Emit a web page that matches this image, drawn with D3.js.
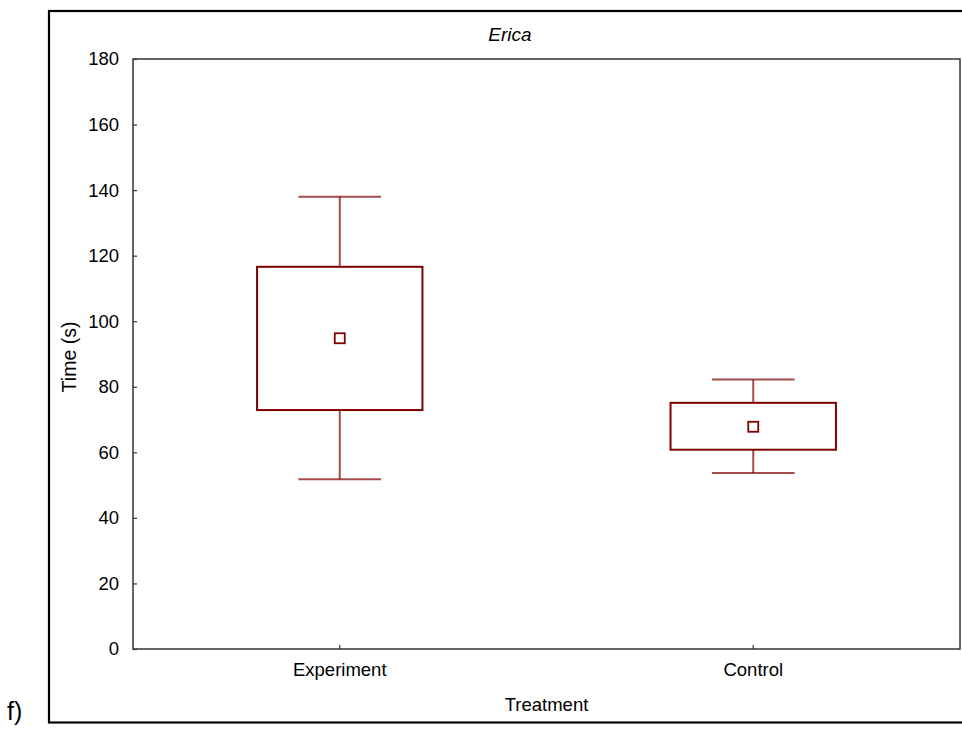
<!DOCTYPE html>
<html>
<head>
<meta charset="utf-8">
<script src="https://cdn.jsdelivr.net/npm/d3@7/dist/d3.min.js"></script>
<style>
  html, body { margin: 0; padding: 0; background: #fff; }
  svg { display: block; font-family: "Liberation Sans", Arial, sans-serif; }
</style>
</head>
<body>
<svg id="chart" width="962" height="729"></svg>
<script>
// Treatment groups and their box-plot statistics (Time, seconds)
const groups = ["Experiment", "Control"];
const whiskerLow = [51.8, 53.7];
const boxLow = [72.9, 60.8];
const means = [94.8, 67.8];
const boxHigh = [116.6, 75.1];
const whiskerHigh = [138, 82.2];
const yTicks = [0, 20, 40, 60, 80, 100, 120, 140, 160, 180];

const chartTitle = "Erica";
const xTitle = "Treatment";
const yTitle = "Time (s)";
const panelTag = "f)";

const svg = d3.select("#chart");
const plot = { left: 133, top: 59, right: 960, bottom: 649 };
const red = "#800000";

const x = d3.scaleBand().domain(groups).range([plot.left, plot.right]).padding(0);
const y = d3.scaleLinear().domain([0, 180]).range([plot.bottom, plot.top]);

// Outer figure frame (runs past the right edge)
svg.append("rect")
  .attr("x", 49).attr("y", 11).attr("width", 922).attr("height", 711.5)
  .attr("fill", "none").attr("stroke", "#000").attr("stroke-width", 2.2);

// Panel tag
svg.append("text").attr("x", 7).attr("y", 720)
  .attr("font-size", 25).attr("fill", "#000").text(panelTag);

// Title
svg.append("text").attr("x", 510).attr("y", 41)
  .attr("text-anchor", "middle").attr("font-style", "italic")
  .attr("font-size", 19).attr("fill", "#000").text(chartTitle);

// Plot frame
svg.append("rect")
  .attr("x", plot.left).attr("y", plot.top)
  .attr("width", plot.right - plot.left).attr("height", plot.bottom - plot.top)
  .attr("fill", "none").attr("stroke", "#333").attr("stroke-width", 1.5);

// Y axis with inward ticks
const yAxis = d3.axisLeft(y).tickValues(yTicks).tickSize(-4).tickPadding(14);
const gy = svg.append("g").attr("transform", `translate(${plot.left},0)`).call(yAxis);
gy.select(".domain").remove();
gy.selectAll(".tick line").attr("stroke", "#333").attr("stroke-width", 1.2);
gy.selectAll(".tick text").attr("font-size", 18.5).attr("fill", "#000")
  .attr("font-family", "Liberation Sans, Arial, sans-serif");

// X axis with inward ticks
const xAxis = d3.axisBottom(x).tickSize(-4).tickPadding(14);
const gx = svg.append("g").attr("transform", `translate(0,${plot.bottom})`).call(xAxis);
gx.select(".domain").remove();
gx.selectAll(".tick line").attr("stroke", "#333").attr("stroke-width", 1.2);
gx.selectAll(".tick text").attr("font-size", 18.5).attr("fill", "#000")
  .attr("font-family", "Liberation Sans, Arial, sans-serif");

// Axis titles
svg.append("text").attr("x", (plot.left + plot.right) / 2).attr("y", 711)
  .attr("text-anchor", "middle").attr("font-size", 18.5).attr("fill", "#000").text(xTitle);
svg.append("text")
  .attr("transform", `translate(76,357) rotate(-90)`)
  .attr("text-anchor", "middle").attr("font-size", 19.5).attr("fill", "#000").text(yTitle);

// Box plots
const boxW = x.bandwidth() * 0.4;
const capW = x.bandwidth() * 0.2;
const g = svg.append("g");
groups.forEach((name, i) => {
  const cx = x(name) + x.bandwidth() / 2;
  // whiskers
  g.append("line").attr("x1", cx).attr("x2", cx)
    .attr("y1", y(boxHigh[i])).attr("y2", y(whiskerHigh[i]))
    .attr("stroke", red).attr("stroke-opacity", 0.7).attr("stroke-width", 2);
  g.append("line").attr("x1", cx).attr("x2", cx)
    .attr("y1", y(boxLow[i])).attr("y2", y(whiskerLow[i]))
    .attr("stroke", red).attr("stroke-opacity", 0.7).attr("stroke-width", 2);
  [whiskerHigh[i], whiskerLow[i]].forEach(v => {
    g.append("line").attr("x1", cx - capW / 2).attr("x2", cx + capW / 2)
      .attr("y1", y(v)).attr("y2", y(v))
      .attr("stroke", red).attr("stroke-opacity", 0.7).attr("stroke-width", 2);
  });
  // box
  g.append("rect")
    .attr("x", cx - boxW / 2).attr("y", y(boxHigh[i]))
    .attr("width", boxW).attr("height", y(boxLow[i]) - y(boxHigh[i]))
    .attr("fill", "#fff").attr("stroke", red).attr("stroke-width", 2);
  // mean marker
  g.append("rect")
    .attr("x", cx - 5).attr("y", y(means[i]) - 5)
    .attr("width", 10).attr("height", 10)
    .attr("fill", "#fff").attr("stroke", red).attr("stroke-width", 1.8);
});
</script>
</body>
</html>
